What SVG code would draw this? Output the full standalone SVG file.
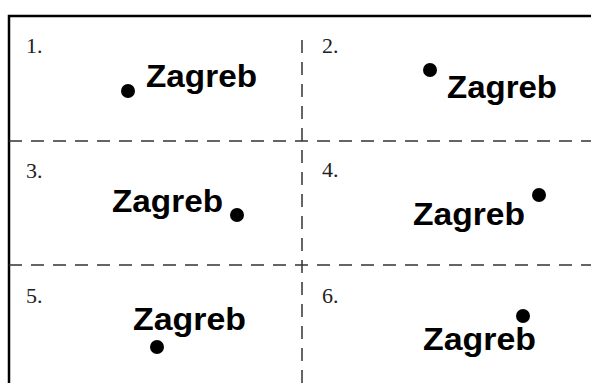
<svg xmlns="http://www.w3.org/2000/svg" width="591" height="383" viewBox="0 0 591 383">
<style>
.num{font-family:"Liberation Serif","Times New Roman",serif;font-size:22px;fill:#222}
.lbl{font-family:"Liberation Sans",Arial,sans-serif;font-weight:bold;font-size:32px;fill:#000}
.dot{fill:#000}
.dash{stroke:#333;stroke-width:1.5;stroke-dasharray:13 9;fill:none}
.frame{stroke:#000;stroke-width:2.5;fill:none}
</style>
<rect width="591" height="383" fill="#fff"/>
<g id="connectors">
<path class="frame" d="M9 383 V16 H591"/>
<path class="dash" d="M9 141 H591"/>
<path class="dash" d="M9 265 H591"/>
<path class="dash" d="M302 40 V383"/>
</g>
<g id="panel1">
<text class="num" x="26" y="53">1.</text>
<circle class="dot" cx="128" cy="91" r="7"/>
<text class="lbl" x="146" y="87" textLength="111" lengthAdjust="spacingAndGlyphs">Zagreb</text>
</g>
<g id="panel2">
<text class="num" x="322" y="53">2.</text>
<circle class="dot" cx="430" cy="70" r="7"/>
<text class="lbl" x="447" y="98" textLength="110" lengthAdjust="spacingAndGlyphs">Zagreb</text>
</g>
<g id="panel3">
<text class="num" x="26" y="178">3.</text>
<circle class="dot" cx="237" cy="215" r="7"/>
<text class="lbl" x="112" y="212" textLength="111" lengthAdjust="spacingAndGlyphs">Zagreb</text>
</g>
<g id="panel4">
<text class="num" x="322" y="177">4.</text>
<circle class="dot" cx="539" cy="195" r="7"/>
<text class="lbl" x="413" y="225" textLength="112" lengthAdjust="spacingAndGlyphs">Zagreb</text>
</g>
<g id="panel5">
<text class="num" x="26" y="303">5.</text>
<circle class="dot" cx="157" cy="347" r="7"/>
<text class="lbl" x="133" y="330" textLength="113" lengthAdjust="spacingAndGlyphs">Zagreb</text>
</g>
<g id="panel6">
<text class="num" x="322" y="303">6.</text>
<circle class="dot" cx="523" cy="316" r="7"/>
<text class="lbl" x="423" y="350" textLength="113" lengthAdjust="spacingAndGlyphs">Zagreb</text>
</g>
</svg>
